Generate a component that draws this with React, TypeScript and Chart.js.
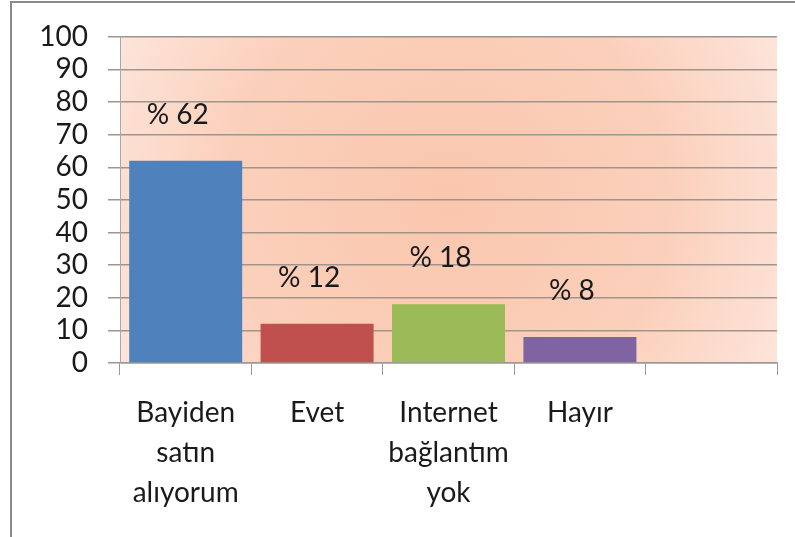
import React, { useEffect, useRef } from "react";
import { Chart, registerables } from "chart.js";

Chart.register(...registerables);

const categories: (string | string[])[] = [
  ["Bayiden", "satın", "alıyorum"],
  "Evet",
  ["Internet", "bağlantım", "yok"],
  "Hayır",
  "",
];
const values: (number | null)[] = [62, 12, 18, 8, null];
const valueLabels: string[] = ["% 62", "% 12", "% 18", "% 8", ""];
const barColors: string[] = ["#4f81bd", "#c0504d", "#9bbb59", "#8064a2", "#000000"];
const yTicks: number[] = [0, 10, 20, 30, 40, 50, 60, 70, 80, 90, 100];

const FONT = "Lato, 'Open Sans', sans-serif";

const bgPlugin = {
  id: "bgGradient",
  beforeDraw(chart: any) {
    const { ctx, chartArea } = chart;
    if (!chartArea) return;
    const { left, top, right, bottom } = chartArea;
    ctx.save();
    const w = right - left;
    const cx = left + w * 0.5;
    const cy = top + (bottom - top) * 0.5;
    const g = ctx.createRadialGradient(cx, cy, 10, cx, cy, w * 0.55);
    g.addColorStop(0, "#fac7ae");
    g.addColorStop(0.6, "#fbd0bb");
    g.addColorStop(1, "#fde4d9");
    ctx.fillStyle = g;
    ctx.fillRect(left, top, w, bottom - top);
    ctx.restore();
  },
};

const labelPlugin = {
  id: "valueLabels",
  afterDatasetsDraw(chart: any) {
    const { ctx } = chart;
    const meta = chart.getDatasetMeta(0);
    ctx.save();
    ctx.font = `28px ${FONT}`;
    ctx.fillStyle = "#1a1a1a";
    ctx.textAlign = "center";
    ctx.textBaseline = "middle";
    meta.data.forEach((bar: any, i: number) => {
      if (values[i] == null) return;
      ctx.fillText(valueLabels[i], bar.x - 8, bar.y - 46);
    });
    ctx.restore();
  },
};

export default function App() {
  const ref = useRef<HTMLCanvasElement | null>(null);
  useEffect(() => {
    if (!ref.current) return;
    const chart = new Chart(ref.current, {
      type: "bar",
      data: {
        labels: categories,
        datasets: [
          {
            data: values,
            backgroundColor: barColors,
            borderWidth: 0,
            categoryPercentage: 1,
            barPercentage: 0.86,
          },
        ],
      },
      options: {
        animation: false,
        responsive: false,
        maintainAspectRatio: false,
        layout: { padding: { top: 35, right: 18, left: 0, bottom: 0 } },
        plugins: { legend: { display: false }, tooltip: { enabled: false } },
        scales: {
          x: {
            grid: {
              offset: true,
              drawOnChartArea: false,
              tickLength: 12,
              color: "#9a9a9a",
              lineWidth: 1,
            },
            border: { color: "#9a9a9a", width: 1.5 },
            ticks: {
              color: "#1a1a1a",
              font: { family: FONT, size: 28, lineHeight: 1.43 },
              padding: 18,
              maxRotation: 0,
              autoSkip: false,
            },
            afterFit(scale: any) {
              scale.height = 174;
            },
          },
          y: {
            min: 0,
            max: 100,
            afterBuildTicks(scale: any) {
              scale.ticks = yTicks.map((v) => ({ value: v }));
            },
            grid: {
              color: "#a0958e",
              lineWidth: 1.5,
              tickLength: 12,
            },
            border: { color: "#a8a8a8", width: 1 },
            ticks: {
              color: "#1a1a1a",
              font: { family: FONT, size: 28 },
              padding: 20,
              autoSkip: false,
            },
            afterFit(scale: any) {
              scale.width = 120;
            },
          },
        },
      },
      plugins: [bgPlugin, labelPlugin],
    });
    return () => chart.destroy();
  }, []);
  return (
    <div style={{ position: "fixed", left: 0, top: 0, width: 795, height: 537, background: "#fff" }}>
      <div
        style={{
          position: "absolute",
          left: 10,
          top: 1,
          width: 900,
          height: 700,
          borderLeft: "2px solid #8a8a8a",
          borderTop: "2px solid #8a8a8a",
        }}
      />
      <canvas ref={ref} width={795} height={537} style={{ position: "absolute", left: 0, top: 0 }} />
    </div>
  );
}
